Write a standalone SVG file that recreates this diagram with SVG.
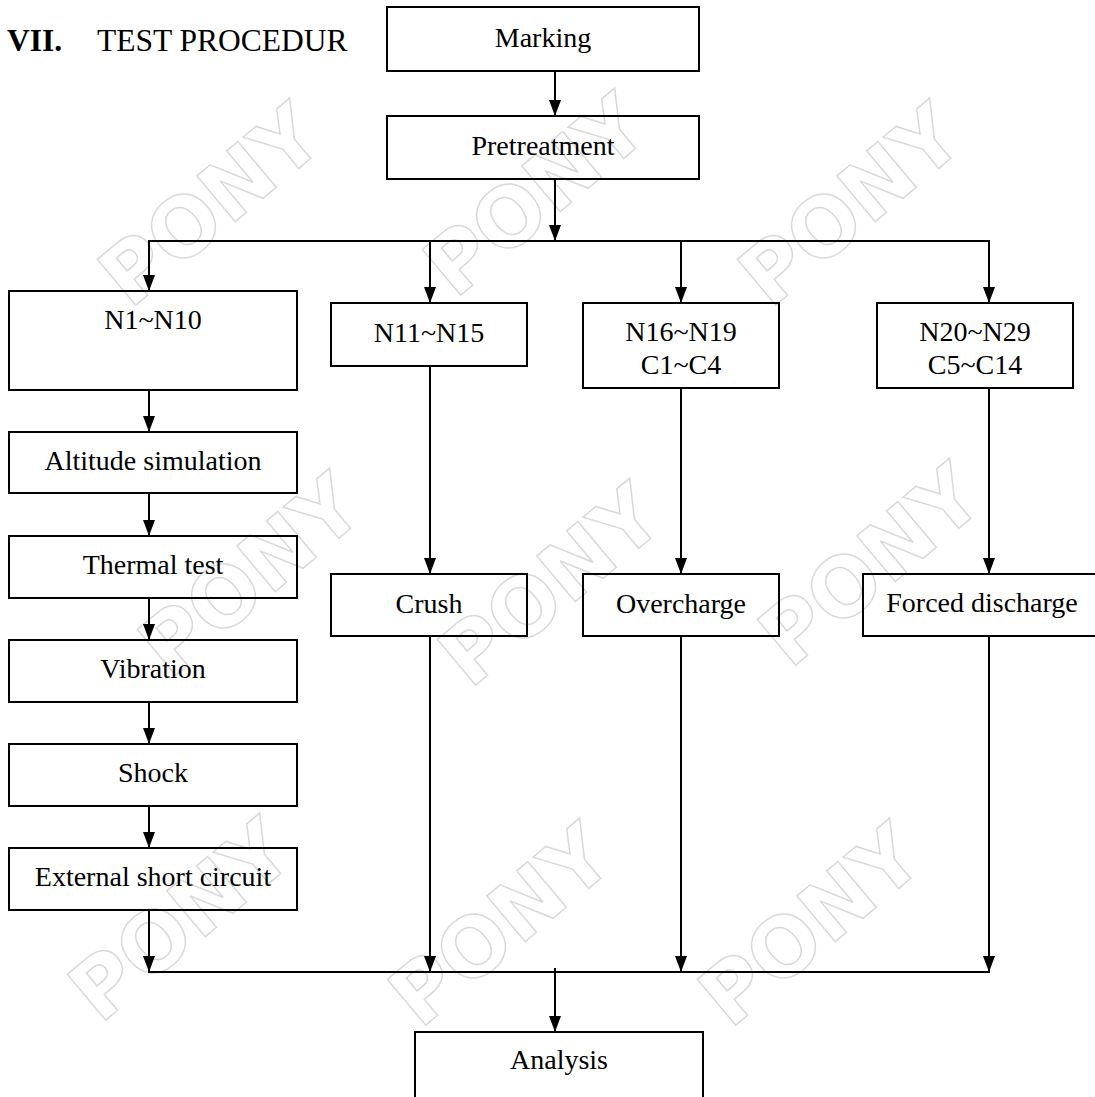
<svg xmlns="http://www.w3.org/2000/svg" width="1095" height="1097" viewBox="0 0 1095 1097">
<defs>
<style>
.box{fill:none;stroke:#000;stroke-width:2}
.ln{fill:none;stroke:#000;stroke-width:2}
.arr{marker-end:url(#ah)}
.t{font-family:"Liberation Serif","Times New Roman",serif;font-size:28px;text-anchor:middle;fill:#000}
.h{font-family:"Liberation Serif","Times New Roman",serif;font-size:31.5px;fill:#000}
.wm{font-family:"DejaVu Sans",sans-serif;font-weight:bold;font-size:82px;fill:none;stroke:#d9d9d9;stroke-width:1.5}
</style>
<marker id="ah" viewBox="0 0 16 12" refX="16" refY="6" markerWidth="16" markerHeight="12" markerUnits="userSpaceOnUse" orient="auto">
<path d="M0,0 L16,6 L0,12 Z" fill="#000"/>
</marker>
</defs>
<rect width="1095" height="1097" fill="#fff"/>
<g id="watermarks">
<text class="wm" transform="translate(130,310) rotate(-40)">PONY</text>
<text class="wm" transform="translate(455,300) rotate(-40)">PONY</text>
<text class="wm" transform="translate(770,310) rotate(-40)">PONY</text>
<text class="wm" transform="translate(170,680) rotate(-40)">PONY</text>
<text class="wm" transform="translate(470,690) rotate(-40)">PONY</text>
<text class="wm" transform="translate(790,670) rotate(-40)">PONY</text>
<text class="wm" transform="translate(100,1025) rotate(-40)">PONY</text>
<text class="wm" transform="translate(420,1030) rotate(-40)">PONY</text>
<text class="wm" transform="translate(730,1030) rotate(-40)">PONY</text>
</g>
<g id="title">
<text class="h" x="7" y="51" font-weight="bold">VII.</text>
<text class="h" x="97" y="51">TEST PROCEDUR</text>
</g>
<g id="connectors">
<line class="ln arr" x1="555" y1="71" x2="555" y2="116"/>
<line class="ln arr" x1="555" y1="179" x2="555" y2="241"/>
<line class="ln" x1="148" y1="241" x2="990" y2="241"/>
<line class="ln arr" x1="149" y1="241" x2="149" y2="291"/>
<line class="ln arr" x1="430" y1="241" x2="430" y2="303"/>
<line class="ln arr" x1="681" y1="241" x2="681" y2="303"/>
<line class="ln arr" x1="989" y1="241" x2="989" y2="303"/>
<line class="ln arr" x1="149" y1="390" x2="149" y2="432"/>
<line class="ln arr" x1="149" y1="493" x2="149" y2="536"/>
<line class="ln arr" x1="149" y1="598" x2="149" y2="640"/>
<line class="ln arr" x1="149" y1="702" x2="149" y2="744"/>
<line class="ln arr" x1="149" y1="806" x2="149" y2="848"/>
<line class="ln arr" x1="430" y1="366" x2="430" y2="574"/>
<line class="ln arr" x1="681" y1="388" x2="681" y2="574"/>
<line class="ln arr" x1="989" y1="388" x2="989" y2="574"/>
<line class="ln arr" x1="149" y1="910" x2="149" y2="972"/>
<line class="ln arr" x1="430" y1="636" x2="430" y2="972"/>
<line class="ln arr" x1="681" y1="636" x2="681" y2="972"/>
<line class="ln arr" x1="989" y1="636" x2="989" y2="972"/>
<line class="ln" x1="148" y1="972" x2="990" y2="972"/>
<line class="ln arr" x1="555" y1="968" x2="555" y2="1032"/>
</g>
<g id="marking"><rect class="box" x="387" y="7" width="312" height="64"/><text class="t" x="543" y="47">Marking</text></g>
<g id="pretreatment"><rect class="box" x="387" y="116" width="312" height="63"/><text class="t" x="543" y="155">Pretreatment</text></g>
<g id="n1n10"><rect class="box" x="9" y="291" width="288" height="99"/><text class="t" x="153" y="329">N1~N10</text></g>
<g id="n11n15"><rect class="box" x="331" y="303" width="196" height="63"/><text class="t" x="429" y="342">N11~N15</text></g>
<g id="n16n19"><rect class="box" x="583" y="303" width="196" height="85"/><text class="t" x="681" y="341">N16~N19</text><text class="t" x="681" y="374">C1~C4</text></g>
<g id="n20n29"><rect class="box" x="877" y="303" width="196" height="85"/><text class="t" x="975" y="341">N20~N29</text><text class="t" x="975" y="374">C5~C14</text></g>
<g id="altitude"><rect class="box" x="9" y="432" width="288" height="61"/><text class="t" x="153" y="470">Altitude simulation</text></g>
<g id="thermal"><rect class="box" x="9" y="536" width="288" height="62"/><text class="t" x="153" y="574">Thermal test</text></g>
<g id="vibration"><rect class="box" x="9" y="640" width="288" height="62"/><text class="t" x="153" y="678">Vibration</text></g>
<g id="shock"><rect class="box" x="9" y="744" width="288" height="62"/><text class="t" x="153" y="782">Shock</text></g>
<g id="external"><rect class="box" x="9" y="848" width="288" height="62"/><text class="t" x="153" y="886">External short circuit</text></g>
<g id="crush"><rect class="box" x="331" y="574" width="196" height="62"/><text class="t" x="429" y="613">Crush</text></g>
<g id="overcharge"><rect class="box" x="583" y="574" width="196" height="62"/><text class="t" x="681" y="613">Overcharge</text></g>
<g id="forced"><rect class="box" x="863" y="574" width="240" height="62"/><text class="t" x="982" y="612">Forced discharge</text></g>
<g id="analysis"><rect class="box" x="415" y="1032" width="288" height="80"/><text class="t" x="559" y="1069">Analysis</text></g>
</svg>
